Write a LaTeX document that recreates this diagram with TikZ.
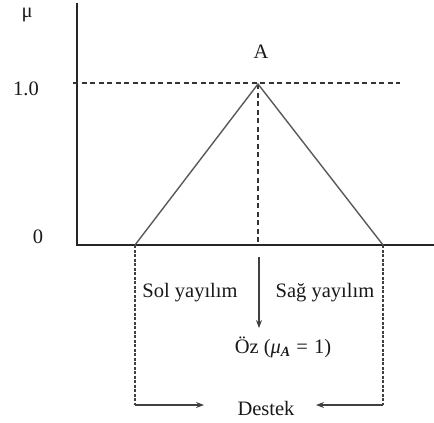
\documentclass[tikz,border=0pt]{standalone}
\usepackage{fontspec}
\setmainfont{Liberation Serif}
\usetikzlibrary{arrows.meta}
\begin{document}
\begin{tikzpicture}[x=1pt,y=-1pt,
  lbl/.style={inner sep=0pt, font=\fontsize{20.5}{24}\selectfont, text=black!90},
  axis/.style={line width=2pt, draw=black!85},
  tri/.style={line width=1.4pt, draw=black!65},
  guide/.style={line width=1.4pt, draw=black!80, dash pattern=on 5pt off 3.5pt},
  fine/.style={line width=1.1pt, draw=black!75, dash pattern=on 3pt off 1.5pt},
  arr/.style={line width=1.1pt, draw=black!75, -{Stealth[length=8pt,width=6pt]}}]
\useasboundingbox (0,0) rectangle (434,423);
% coordinates
\coordinate (ytop) at (77,3);
\coordinate (orig) at (77,245);
\coordinate (xend) at (434,245);
\coordinate (peak) at (258,84);
\coordinate (lb) at (135,245);
\coordinate (rb) at (383,245);
\coordinate (peakbase) at (258,245);
\coordinate (dl) at (73,83);
\coordinate (dr) at (400,83);
\coordinate (lbot) at (135,405);
\coordinate (rbot) at (383,405);
\coordinate (larr) at (204,405);
\coordinate (rarr) at (316,405);
\coordinate (ds) at (259,257);
\coordinate (de) at (259,328);
% axes
\draw[axis] (ytop) -- (orig) -- (xend);
% dashed guides
\draw[guide] (dl) -- (dr);
\draw[guide] (peak) -- (peakbase);
% triangle
\draw[tri] (lb) -- (peak) -- (rb);
% support lines
\draw[fine] (lb) -- (lbot);
\draw[fine] (rb) -- (rbot);
\draw[arr] (lbot) -- (larr);
\draw[arr] (rbot) -- (rarr);
\draw[arr] (ds) -- (de);
% labels
\node[lbl] (mu) at (27,15) {μ};
\node[lbl] (A) at (261,52) {A};
\node[lbl] (one) at (26,89) {1.0};
\node[lbl] (zero) at (38,237) {0};
\node[lbl] (sol) at (190,293) {Sol yayılım};
\node[lbl] (sag) at (325,293) {Sağ yayılım};
\node[lbl] (oz) at (283,347) {Öz (\textit{μ}\raisebox{-0.35ex}{\fontsize{14}{16}\selectfont\textbf{\textit{A}}}\hspace{0.3em}=\hspace{0.3em}1)};
\node[lbl] (destek) at (266,408) {Destek};
\end{tikzpicture}
\end{document}
